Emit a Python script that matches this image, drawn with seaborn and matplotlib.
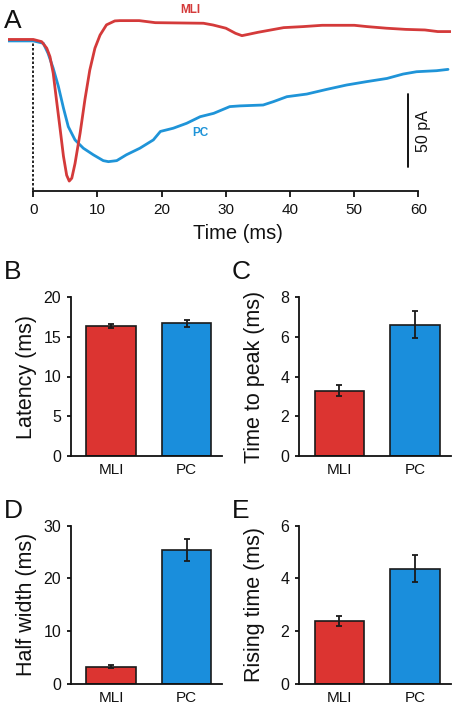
import numpy as np
import pandas as pd
import matplotlib
matplotlib.use("Agg")
import matplotlib.pyplot as plt
import seaborn as sns

# ---------------- data ----------------
# Panel A traces (time in ms, current in pA, baseline = 0)
mli_time = [-4.1, 0.0, 1.3, 2.1, 2.6, 3.1, 3.6, 4.2, 4.7, 5.2, 5.6, 6.0, 6.5, 7.3, 8.05,
            8.8, 9.6, 10.4, 11.4, 12.7, 13.5, 16.5, 19.0, 26.5, 28.0, 30.0, 31.5, 32.5,
            33.5, 35.0, 37.0, 39.0, 42.0, 45.0, 50.0, 52.0, 55.0, 58.0, 61.0, 63.0, 65.0]
mli_curr = [0.0, 0.0, -1.5, -6.0, -11.8, -23.0, -41.0, -62.0, -80.0, -93.0, -97.0, -95.0,
            -85.0, -64.0, -41.0, -21.0, -6.0, 3.0, 10.0, 12.7, 12.9, 12.9, 11.5, 11.1,
            9.9, 7.7, 4.2, 2.6, 3.5, 4.9, 6.5, 8.1, 8.8, 9.7, 9.7, 8.8, 7.7, 6.9, 6.5,
            5.4, 5.4]
pc_time = [-4.1, 0.0, 1.56, 2.3, 3.1, 3.9, 4.7, 5.45, 6.5, 7.8, 9.35, 10.9, 11.7, 13.0,
           14.5, 16.6, 18.7, 19.8, 21.8, 23.9, 26.0, 28.1, 30.6, 32.2, 35.8, 37.4, 39.5,
           42.6, 45.7, 48.8, 51.9, 55.1, 57.6, 59.7, 62.8, 64.6]
pc_curr = [-1.0, -1.0, -2.6, -9.5, -19.7, -32.0, -47.0, -59.7, -68.8, -74.5, -79.0, -83.0,
           -83.7, -83.0, -79.0, -74.5, -68.8, -63.0, -60.8, -57.4, -52.9, -50.6, -46.0,
           -45.5, -44.9, -42.6, -39.2, -37.4, -34.2, -31.2, -28.9, -26.7, -23.7, -22.1,
           -21.4, -20.5]

# Bar panels
cells = ["MLI", "PC"]
latency = [16.4, 16.7]
latency_err = [0.25, 0.4]
time_to_peak = [3.28, 6.62]
time_to_peak_err = [0.28, 0.7]
half_width = [3.3, 25.4]
half_width_err = [0.35, 2.05]
rising_time = [2.4, 4.37]
rising_time_err = [0.19, 0.52]

# ---------------- style ----------------
sns.set_theme(style="ticks")
plt.rcParams["font.family"] = ["Liberation Sans", "DejaVu Sans"]
plt.rcParams["axes.linewidth"] = 1.3
plt.rcParams["xtick.major.width"] = 1.3
plt.rcParams["ytick.major.width"] = 1.3
for k in ["text.color", "axes.labelcolor", "xtick.color", "ytick.color",
          "axes.edgecolor"]:
    plt.rcParams[k] = "#111111"

RED_LINE = "#d43a3a"
BLUE_LINE = "#1f94d8"
RED_BAR = "#dc3431"
BLUE_BAR = "#1a8edc"

W, H = 456, 709
fig = plt.figure(figsize=(W / 100, H / 100), dpi=100)


def px_axes(x0, y0, x1, y1):
    return fig.add_axes([x0 / W, (H - y1) / H, (x1 - x0) / W, (y1 - y0) / H])


# ---------------- Panel A ----------------
axA = px_axes(7.6, 5, 450.6, 191)
df_pc = pd.DataFrame({"t": pc_time, "i": pc_curr})
df_mli = pd.DataFrame({"t": mli_time, "i": mli_curr})
sns.lineplot(data=df_pc, x="t", y="i", sort=False, color=BLUE_LINE, lw=2.0, ax=axA)
sns.lineplot(data=df_mli, x="t", y="i", sort=False, color=RED_LINE, lw=2.0, ax=axA)
axA.set_xlim(-4, 65)
axA.set_ylim(-103.8, 23.6)
axA.plot([0, 0], [0, -103.8], color="black", lw=1.2, ls=(0, (1.5, 1.2)), zorder=1)
# scale bar 50 pA
axA.plot([58.4, 58.4], [-37.5, -87.5], color="black", lw=1.3)
axA.text(60.8, -62.5, "50 pA", rotation=90, ha="center", va="center", fontsize=11.5)
axA.text(24.4, 20.0, "MLI", color=RED_LINE, fontsize=8.5, fontweight="bold",
         ha="center", va="center")
axA.text(26.0, -64.0, "PC", color=BLUE_LINE, fontsize=8.5, fontweight="bold",
         ha="center", va="center")
axA.spines["left"].set_visible(False)
axA.spines["right"].set_visible(False)
axA.spines["top"].set_visible(False)
axA.spines["bottom"].set_bounds(0, 60)
axA.set_yticks([])
axA.set_xticks(range(0, 61, 10))
axA.tick_params(axis="x", direction="out", length=4, pad=5, labelsize=11)
axA.set_xlabel("Time (ms)", fontsize=14.5)
axA.xaxis.set_label_coords(0.52, -0.18)
axA.set_ylabel("")
axA.set_facecolor("none")


# ---------------- Bar panels ----------------
def bar_panel(rect, vals, errs, ylabel, ymax, step):
    ax = px_axes(*rect)
    sns.barplot(x=cells, y=vals, hue=cells, palette=[RED_BAR, BLUE_BAR], width=0.65,
                saturation=1, edgecolor="#1a1a1a", linewidth=1.2, errorbar=None,
                legend=False, ax=ax)
    ax.errorbar(x=[0, 1], y=vals, yerr=errs, fmt="none", ecolor="#1a1a1a",
                elinewidth=1.3, capsize=2.5, capthick=1.3, zorder=5)
    ax.set_xlim(-0.53, 1.47)
    ax.set_ylim(0, ymax)
    ax.set_yticks(np.arange(0, ymax + 0.001, step))
    ax.set_yticklabels([f"{v:g}" for v in np.arange(0, ymax + 0.001, step)])
    ax.spines["right"].set_visible(False)
    ax.spines["top"].set_visible(False)
    ax.tick_params(axis="y", direction="out", length=3, pad=4, labelsize=11.5)
    ax.tick_params(axis="x", length=0, pad=5, labelsize=11)
    ax.set_ylabel(ylabel, fontsize=15.5)
    ax.yaxis.set_label_coords(-0.225, 0.5)
    ax.set_xlabel("")
    return ax


bar_panel((71, 297.3, 222, 455.7), latency, latency_err, "Latency (ms)", 20, 5)
bar_panel((299, 297.3, 450.7, 455.7), time_to_peak, time_to_peak_err,
          "Time to peak (ms)", 8, 2)
bar_panel((71, 525.7, 222, 684), half_width, half_width_err, "Half width (ms)", 30, 10)
bar_panel((299, 525.7, 450.7, 684), rising_time, rising_time_err,
          "Rising time (ms)", 6, 2)

# panel letters
for lab, x, y in [("A", 4, 9), ("B", 4, 260), ("C", 232, 260), ("D", 4, 499), ("E", 232, 499)]:
    fig.text(x / W, 1 - y / H, lab, fontsize=19, ha="left", va="top")

fig.savefig("out.png", dpi=100)
